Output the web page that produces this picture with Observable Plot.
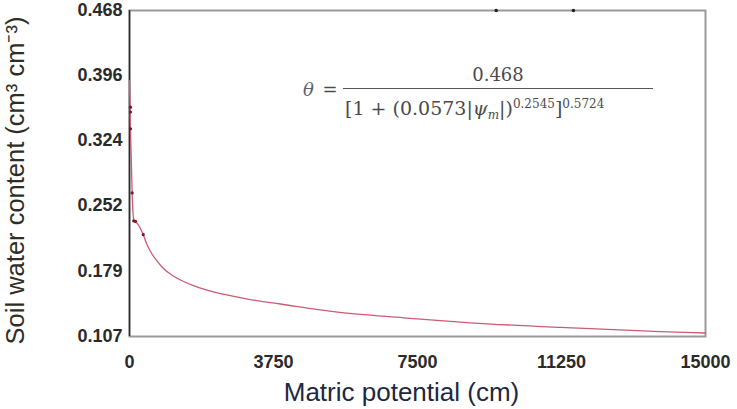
<!DOCTYPE html>
<html>
<head>
<meta charset="utf-8">
<script src="https://cdn.jsdelivr.net/npm/d3@7"></script>
<script src="https://cdn.jsdelivr.net/npm/@observablehq/plot@0.6"></script>
<style>
  html, body { margin: 0; padding: 0; background: #fff; }
  #wrap { position: relative; width: 737px; height: 409px; }
  .eq { position: absolute; font-family: "DejaVu Serif", "Liberation Serif", serif; color: #4a4a4a;
        font-size: 18px; line-height: 22px; white-space: nowrap; }
  .eq-lhs { left: 303px; top: 79px; }
  .eq-lhs i { color: #5a6070; margin-right: 3px; }
  .eq-num { left: 343px; top: 64px; width: 310px; text-align: center; }
  .eq-bar { left: 343px; top: 88px; width: 310px; height: 0; border-top: 1.4px solid #555; }
  .eq-den { left: 345px; top: 97px; font-size: 19px; }
  .eq sup { font-size: 12px; line-height: 0; vertical-align: 0.6em; }
  .eq sub { font-size: 12px; line-height: 0; font-style: italic; vertical-align: -0.3em; }
</style>
</head>
<body>
<div id="wrap"></div>
<script>
// Fitted curve: matric potential (cm) and soil water content
const curvePsi   = [0,      13,     26,     47,     70,     91,     117,    208,    357,    443,    547,    703,    885,    1120,   1328,   1719,   2187,   3073,   3932,   5416,   7135,   8880,   11224,  13828,  15000];
const curveTheta = [0.3905, 0.3606, 0.3351, 0.3019, 0.2653, 0.2443, 0.2355, 0.2321, 0.2199, 0.2100, 0.2011, 0.1912, 0.1823, 0.1745, 0.1696, 0.1624, 0.1563, 0.1485, 0.1430, 0.1339, 0.1277, 0.1222, 0.1170, 0.1125, 0.1109];
// Measured points
const obsPsi   = [26,    26,     26,    70,    110,    156,    357];
const obsTheta = [0.361, 0.3556, 0.337, 0.266, 0.2350, 0.2345, 0.2199];
// Marks on the top border
const topPsi   = [9550, 11560];
const topTheta = [0.468, 0.468];
// Ticks
const xTicks = [0, 3750, 7500, 11250, 15000];
const yTicks = [0.107, 0.179, 0.252, 0.324, 0.396, 0.468];
const xTitle = "Matric potential (cm)";
const yTitle = "Soil water content (cm\u00B3 cm\u207B\u00B3)";

const curveData = curvePsi.map((p, i) => ({psi: p, theta: curveTheta[i]}));
const obsData = obsPsi.map((p, i) => ({psi: p, theta: obsTheta[i]}));
const topData = topPsi.map((p, i) => ({psi: p, theta: topTheta[i]}));

const chart = Plot.plot({
  width: 737,
  height: 409,
  marginLeft: 129,
  marginRight: 32,
  marginTop: 10,
  marginBottom: 73,
  style: {fontFamily: "Liberation Sans, Arial, sans-serif", background: "#fff", overflow: "visible"},
  x: {domain: [0, 15000]},
  y: {domain: [0.107, 0.468]},
  marks: [
    Plot.frame({stroke: "#9a9a9a", strokeWidth: 2}),
    Plot.axisX({ticks: xTicks, tickSize: 0, tickPadding: 19, tickFormat: d => String(d), label: null,
                fontSize: 18, fontWeight: "bold", fill: "#2a2a2a"}),
    Plot.axisY({ticks: yTicks, tickSize: 0, tickPadding: 7, tickFormat: d => d.toFixed(3), label: null,
                fontSize: 18, fontWeight: "bold", fill: "#2a2a2a"}),
    Plot.ruleX([0], {stroke: "#2a2a2a", strokeWidth: 1.5}),
    Plot.line(curveData, {x: "psi", y: "theta", stroke: "#cc5a74", strokeWidth: 1.3, curve: "monotone-x"}),
    Plot.dot(obsData, {x: "psi", y: "theta", r: 1.6, fill: "#7a1530", stroke: "none"}),
    Plot.dot(topData, {x: "psi", y: "theta", r: 1.8, fill: "#222", stroke: "none"}),
    Plot.text([xTitle], {frameAnchor: "bottom", dx: -16, dy: 56, fontSize: 26, fill: "#1e2840", lineAnchor: "middle"}),
    Plot.text([yTitle], {frameAnchor: "left", dx: -114, dy: 7, rotate: -90, textAnchor: "middle",
                         fontSize: 25.5, fill: "#2e2e26", lineAnchor: "middle"})
  ]
});

const wrap = document.getElementById("wrap");
wrap.appendChild(chart);
const parts = [
  ['eq eq-lhs', '<i>\u03B8</i> =&nbsp;'],
  ['eq eq-num', '0.468'],
  ['eq eq-bar', ''],
  ['eq eq-den', '[1 + (0.0573|<i>\u03C8</i><sub>m</sub>|)<sup>0.2545</sup>]<sup>0.5724</sup>']
];
for (const [cls, html] of parts) {
  const d = document.createElement("div");
  d.className = cls;
  d.innerHTML = html;
  wrap.appendChild(d);
}
</script>
</body>
</html>
